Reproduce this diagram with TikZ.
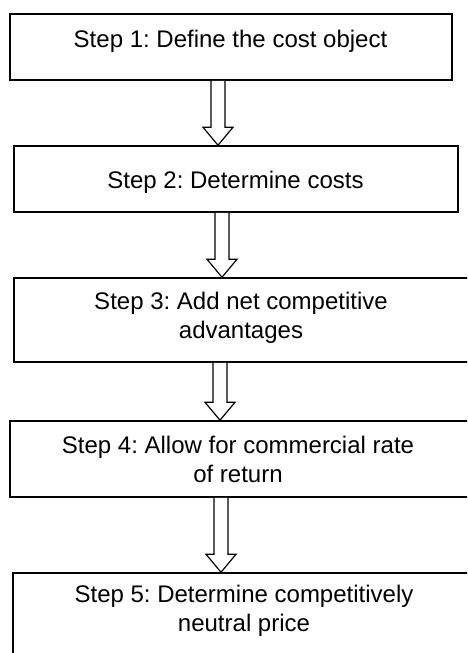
\documentclass[tikz,border=0pt]{standalone}
\usepackage{fontspec}
\setmainfont{Liberation Sans}
\usetikzlibrary{calc}
\frenchspacing
\tikzset{
  boxnode/.style={draw, line width=1.5pt, inner sep=0pt},
  steptext/.style={anchor=base, inner sep=0pt, align=center, font=\fontsize{24}{29}\selectfont},
  blockarrow/.style={draw, line width=1.2pt, line join=miter, fill=white}
}
\newcommand\hollowarrow[3]{%
  \draw[blockarrow] let \p1=(#2.south), \p2=(#3.north) in
    ({#1-7pt},\y1) -- ({#1-7pt},{\y2+18pt}) -- ({#1-15pt},{\y2+18pt}) -- ({#1},\y2)
    -- ({#1+15pt},{\y2+18pt}) -- ({#1+7pt},{\y2+18pt}) -- ({#1+7pt},\y1);}
\begin{document}
\begin{tikzpicture}[x=1pt,y=-1pt]
\fill[white] (0,0) rectangle (467,653);
\useasboundingbox (0,0) rectangle (467,653);
\clip (0,0) rectangle (467,653);
\node[boxnode, minimum width=442pt, minimum height=66pt] (b1) at (231,47) {};
\node[boxnode, minimum width=444pt, minimum height=66pt] (b2) at (236,179) {};
\node[boxnode, minimum width=466pt, minimum height=84pt] (b3) at (247,320) {};
\node[boxnode, minimum width=470pt, minimum height=76pt] (b4) at (245,459) {};
\node[boxnode, minimum width=467pt, minimum height=117pt] (b5) at (246.5,631.5) {};
\node[steptext] (t1) at (230.5,47) {Step 1: Define the cost object};
\node[steptext] (t2) at (235.5,188) {Step 2: Determine costs};
\node[steptext] (t3) at (241,338) {Step 3: Add net competitive\\advantages};
\node[steptext] (t4) at (238,482) {Step 4: Allow for commercial rate\\of return};
\node[steptext] (t5) at (244,631) {Step 5: Determine competitively\\neutral price};
\hollowarrow{218pt}{b1}{b2}
\hollowarrow{222pt}{b2}{b3}
\hollowarrow{220pt}{b3}{b4}
\hollowarrow{221pt}{b4}{b5}
\end{tikzpicture}
\end{document}
